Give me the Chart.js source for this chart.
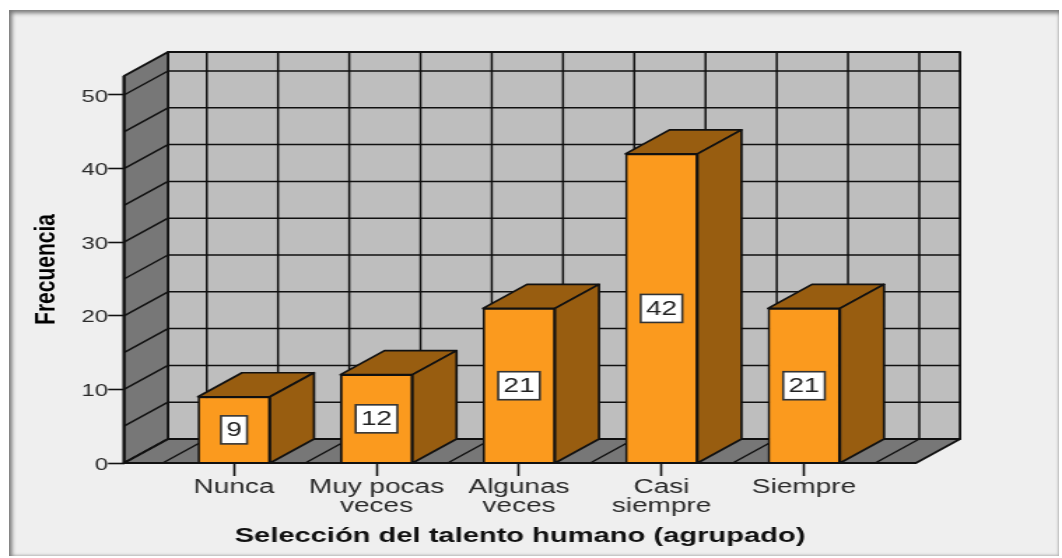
<!DOCTYPE html>
<html>
<head>
<meta charset="utf-8">
<title>Selección del talento humano</title>
<script src="https://cdn.jsdelivr.net/npm/chart.js@4"></script>
<style>
  html, body { margin: 0; background: #fff; overflow: hidden; }
  #frame {
    position: absolute; left: 9px; top: 10px; width: 1050px; height: 546px;
    background: #efefef;
    box-shadow: inset 3px 3px 4px #777, inset -1px -1px 3px #bbb;
  }
  #chart { position: absolute; left: 0; top: 0; transform-origin: 0 0; filter: blur(0.4px); }
</style>
</head>
<body>
<div id="frame"></div>
<canvas id="chart" width="759" height="558"></canvas>
<script>
const categories = [['Nunca'], ['Muy pocas', 'veces'], ['Algunas', 'veces'], ['Casi', 'siempre'], ['Siempre']];
const frecuencia = [9, 12, 21, 42, 21];
const yAxisMax = 52.58;
const xTitle = 'Selección del talento humano (agrupado)';
const yTitle = 'Frecuencia';

// the picture is stretched sideways, so draw narrow and scale the canvas
const SX = 1062 / 759;
const DX = 44 / SX;
const DY = 24;
const LINE = '#111';

const canvas = document.getElementById('chart');
canvas.style.transform = 'scale(' + SX + ',1)';

function poly (ctx, pts, fill) {
  ctx.beginPath();
  pts.forEach((p, i) => i ? ctx.lineTo(p[0], p[1]) : ctx.moveTo(p[0], p[1]));
  ctx.closePath();
  if (fill) {
    ctx.fillStyle = fill;
    ctx.fill();
  }
  ctx.stroke();
}

const box3d = {
  id: 'box3d',
  beforeDatasetsDraw (chart) {
    const { ctx, chartArea: a, scales: { x, y } } = chart;
    ctx.save();
    ctx.strokeStyle = LINE;
    ctx.lineWidth = 1.8;
    ctx.lineJoin = 'round';

    // walls and floor
    poly(ctx, [[a.left + DX, a.top - DY], [a.right + DX, a.top - DY], [a.right + DX, a.bottom - DY], [a.left + DX, a.bottom - DY]], '#bebebe');
    poly(ctx, [[a.left, a.top], [a.left + DX, a.top - DY], [a.left + DX, a.bottom - DY], [a.left, a.bottom]], '#777');
    poly(ctx, [[a.left, a.bottom], [a.left + DX, a.bottom - DY], [a.right + DX, a.bottom - DY], [a.right, a.bottom]], '#777');

    // grid every 5 units on the walls
    ctx.lineWidth = 1.5;
    for (let v = 0; v <= 50; v += 5) {
      const py = y.getPixelForValue(v);
      ctx.beginPath();
      ctx.moveTo(a.left, py);
      ctx.lineTo(a.left + DX, py - DY);
      ctx.lineTo(a.right + DX, py - DY);
      ctx.stroke();
    }
    // vertical grid at every half category
    for (let v = -0.5; v <= categories.length - 0.5; v += 0.5) {
      const px = x.getPixelForValue(v);
      ctx.beginPath();
      ctx.moveTo(px, a.bottom);
      ctx.lineTo(px + DX, a.bottom - DY);
      ctx.lineTo(px + DX, a.top - DY);
      ctx.stroke();
    }

    // sides of the bars
    ctx.lineWidth = 1.7;
    chart.getDatasetMeta(0).data.forEach(bar => {
      const half = bar.width / 2;
      const l = bar.x - half;
      const r = bar.x + half;
      poly(ctx, [[l, bar.y], [l + DX, bar.y - DY], [r + DX, bar.y - DY], [r, bar.y]], '#985d10');
      poly(ctx, [[r, bar.y], [r + DX, bar.y - DY], [r + DX, a.bottom - DY], [r, a.bottom]], '#985d10');
    });
    ctx.restore();
  },
  afterDatasetsDraw (chart) {
    const { ctx, chartArea: a, scales: { y } } = chart;
    ctx.save();
    ctx.font = '20px "Liberation Sans"';
    ctx.textAlign = 'center';
    ctx.textBaseline = 'middle';
    chart.getDatasetMeta(0).data.forEach((bar, i) => {
      const label = String(frecuencia[i]);
      const w = ctx.measureText(label).width + 7.5;
      const cy = y.getPixelForValue(frecuencia[i] / 2);
      ctx.fillStyle = '#fff';
      ctx.strokeStyle = '#333';
      ctx.lineWidth = 1.6;
      ctx.fillRect(bar.x - w / 2, cy - 14, w, 28);
      ctx.strokeRect(bar.x - w / 2, cy - 14, w, 28);
      ctx.fillStyle = '#222';
      ctx.fillText(label, bar.x, cy + 1);
    });
    // front edges
    ctx.strokeStyle = LINE;
    ctx.lineWidth = 2;
    ctx.beginPath();
    ctx.moveTo(a.left, a.top);
    ctx.lineTo(a.left, a.bottom);
    ctx.lineTo(a.right, a.bottom);
    ctx.stroke();
    ctx.restore();
  }
};

new Chart(canvas, {
  type: 'bar',
  data: {
    datasets: [{
      data: frecuencia.map((v, i) => ({ x: i, y: v })),
      backgroundColor: '#fb9a1e',
      borderColor: LINE,
      borderWidth: 1.7,
      barThickness: 72 / SX
    }]
  },
  options: {
    responsive: false,
    animation: false,
    layout: { padding: { top: 76, right: 759 - 916 / SX } },
    plugins: { legend: { display: false }, tooltip: { enabled: false } },
    scales: {
      x: {
        type: 'linear',
        offset: false,
        min: -110 / 142.5,
        max: 682 / 142.5,
        afterBuildTicks: s => { s.ticks = categories.map((c, i) => ({ value: i })); },
        afterFit: s => { s.height = 95; },
        border: { display: false },
        grid: { offset: false, drawOnChartArea: false, tickLength: 13, tickColor: LINE, tickWidth: 1.6 },
        ticks: {
          autoSkip: false,
          maxRotation: 0,
          padding: 2,
          color: '#2a2a2a',
          font: { family: 'Liberation Sans', size: 20, lineHeight: 0.95 },
          callback: v => categories[v]
        },
        title: {
          display: true,
          text: xTitle,
          color: '#111',
          font: { family: 'Liberation Sans', size: 20.8, weight: 'bold' },
          padding: 9
        }
      },
      y: {
        min: 0,
        max: yAxisMax,
        afterFit: s => { s.width = 124 / SX; },
        border: { display: false },
        grid: { drawOnChartArea: false, tickLength: 11.4, tickColor: LINE, tickWidth: 1.6 },
        ticks: {
          stepSize: 10,
          includeBounds: false,
          padding: 0,
          color: '#2a2a2a',
          font: { family: 'Liberation Sans', size: 17, lineHeight: '4px' },
          // blank first line drops the number a little, as in the reference
          callback: v => ['', String(v)]
        },
        title: {
          display: true,
          text: yTitle,
          color: '#000',
          font: { family: 'Liberation Sans', size: 21, weight: 'bold' },
          padding: { top: 21, bottom: 0 }
        }
      }
    }
  },
  plugins: [box3d]
});
</script>
</body>
</html>
